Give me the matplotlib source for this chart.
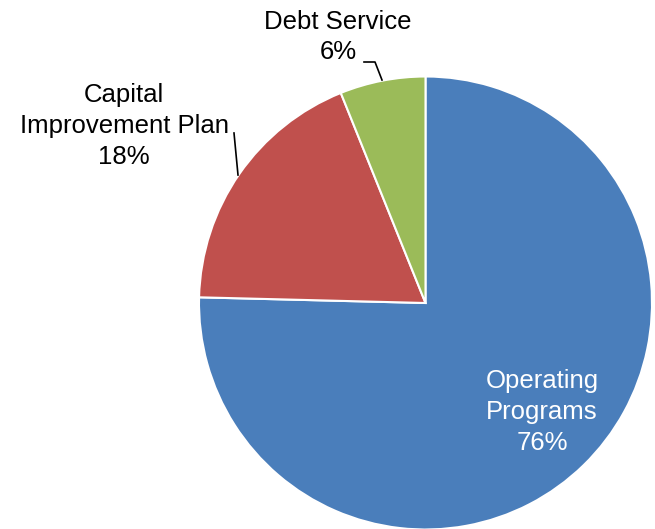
import matplotlib.pyplot as plt

labels = ['Operating\nPrograms', 'Capital\nImprovement Plan', 'Debt Service']
shares = [75.4, 18.5, 6.1]
pct_labels = ['76%', '18%', '6%']
colors = ['#4A7EBB', '#C0504D', '#9BBB59']

plt.rcParams['font.family'] = ['Liberation Sans', 'DejaVu Sans']

fig = plt.figure(figsize=(6.55, 5.29), dpi=100)
ax = fig.add_axes([0, 0, 1, 1])
H = 529

ax.pie(shares, colors=colors, startangle=90, counterclock=False,
       center=(425.5, H - 303), radius=226.5,
       wedgeprops={'edgecolor': 'white', 'linewidth': 1.5})

fs = 18.5
ls = 1.36
ax.text(542, H - 412, labels[0] + '\n' + pct_labels[0], ha='center', va='center',
        color='white', fontsize=fs, linespacing=ls)
ax.text(124, H - 126, labels[1] + '\n' + pct_labels[1], ha='center', va='center',
        color='black', fontsize=fs, linespacing=ls)
ax.text(338, H - 37, labels[2] + '\n' + pct_labels[2], ha='center', va='center',
        color='black', fontsize=fs, linespacing=ls)

# leader lines
ax.plot([364, 375, 382], [H - 62, H - 62, H - 80], color='black', lw=1.2)
ax.plot([234, 238], [H - 133, H - 175], color='black', lw=1.2)

ax.set_xlim(0, 655)
ax.set_ylim(0, H)
ax.axis('off')
fig.savefig('out.png', dpi=100)
